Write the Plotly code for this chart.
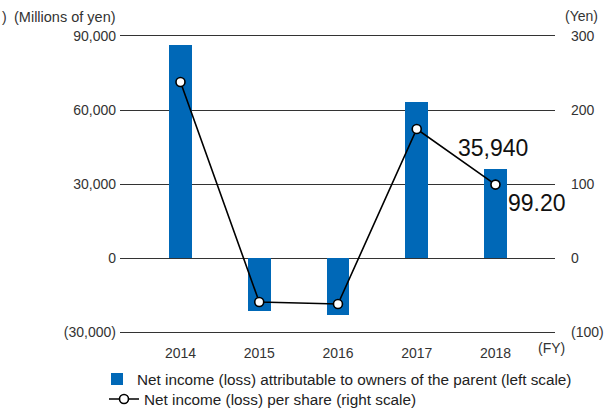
import plotly.graph_objects as go

years = ["2014", "2015", "2016", "2017", "2018"]
net_income = [86350, -21490, -23100, 63240, 35940]
eps = [237.8, -59.5, -62.2, 174.3, 99.20]
left_ticks = [-30000, 0, 30000, 60000, 90000]
left_labels = ["(30,000)", "0", "30,000", "60,000", "90,000"]
right_ticks = [-100, 0, 100, 200, 300]
right_labels = ["(100)", "0", "100", "200", "300"]

FONT = "'Liberation Sans', Arial, sans-serif"
BLUE = "#0068b7"

L, R, T, B = 120, 52, 36, 80
W, H = 607, 412
PW, PH = W - L - R, H - T - B

def px(x):
    return (x - L) / PW

def py(y):
    return (H - B - y) / PH

fig = go.Figure()
fig.add_trace(go.Bar(
    x=years, y=net_income, width=0.29, marker=dict(color=BLUE, line=dict(width=0)),
    name="Net income (loss) attributable to owners of the parent (left scale)",
    yaxis="y", legend="legend",
))
fig.add_trace(go.Scatter(
    x=years, y=eps, mode="lines+markers",
    line=dict(color="#000000", width=1.6),
    marker=dict(symbol="circle", size=9, color="white", line=dict(color="#000000", width=1.6)),
    name="Net income (loss) per share (right scale)",
    yaxis="y2", legend="legend2",
))

leg_common = dict(xanchor="left", yanchor="middle",
                  font=dict(size=15.3, color="#222222", family=FONT),
                  itemwidth=30, bgcolor="rgba(0,0,0,0)")

fig.update_layout(
    width=W, height=H,
    margin=dict(l=L, r=R, t=T, b=B, autoexpand=False),
    paper_bgcolor="white", plot_bgcolor="white",
    font=dict(family=FONT, size=14, color="#333333"),
    bargap=0,
    xaxis=dict(
        type="category", range=[-0.768, 4.756], showgrid=False, zeroline=False,
        showline=True, mirror=True, linecolor="#333333", linewidth=1,
        ticks="", tickfont=dict(size=14, color="#333333"),
        ticklabelstandoff=8,
    ),
    yaxis=dict(
        range=[-30000, 90000], tickvals=left_ticks, ticktext=left_labels,
        showgrid=True, gridcolor="#333333", gridwidth=1, zeroline=False, showline=False,
        ticks="", tickfont=dict(size=14, color="#333333"), ticklabelstandoff=3,
    ),
    yaxis2=dict(
        range=[-100, 300], tickvals=right_ticks, ticktext=right_labels,
        overlaying="y", side="right", showgrid=False, zeroline=False, showline=False,
        ticks="", tickfont=dict(size=14, color="#333333"), ticklabelstandoff=15,
    ),
    showlegend=True,
    legend=dict(x=px(97), y=py(379), **leg_common),
    legend2=dict(x=px(104), y=py(399), **leg_common),
    annotations=[
        dict(text="(Millions of yen)", x=px(118), y=py(17), xref="paper", yref="paper",
             xanchor="right", yanchor="middle", showarrow=False,
             font=dict(size=14.5, color="#333333")),
        dict(text=")", x=px(0), y=py(17), xref="paper", yref="paper",
             xanchor="left", yanchor="middle", showarrow=False,
             font=dict(size=14, color="#333333")),
        dict(text="(Yen)", x=px(581), y=py(16), xref="paper", yref="paper",
             xanchor="center", yanchor="middle", showarrow=False,
             font=dict(size=14, color="#333333")),
        dict(text="(FY)", x=px(551), y=py(348), xref="paper", yref="paper",
             xanchor="center", yanchor="middle", showarrow=False,
             font=dict(size=14, color="#333333")),
        dict(text="35,940", x=px(493), y=py(148), xref="paper", yref="paper",
             xanchor="center", yanchor="middle", showarrow=False,
             font=dict(size=23, color="#111111")),
        dict(text="99.20", x=px(537), y=py(203), xref="paper", yref="paper",
             xanchor="center", yanchor="middle", showarrow=False,
             font=dict(size=23, color="#111111")),
    ],
)

fig.write_html("out.html")
